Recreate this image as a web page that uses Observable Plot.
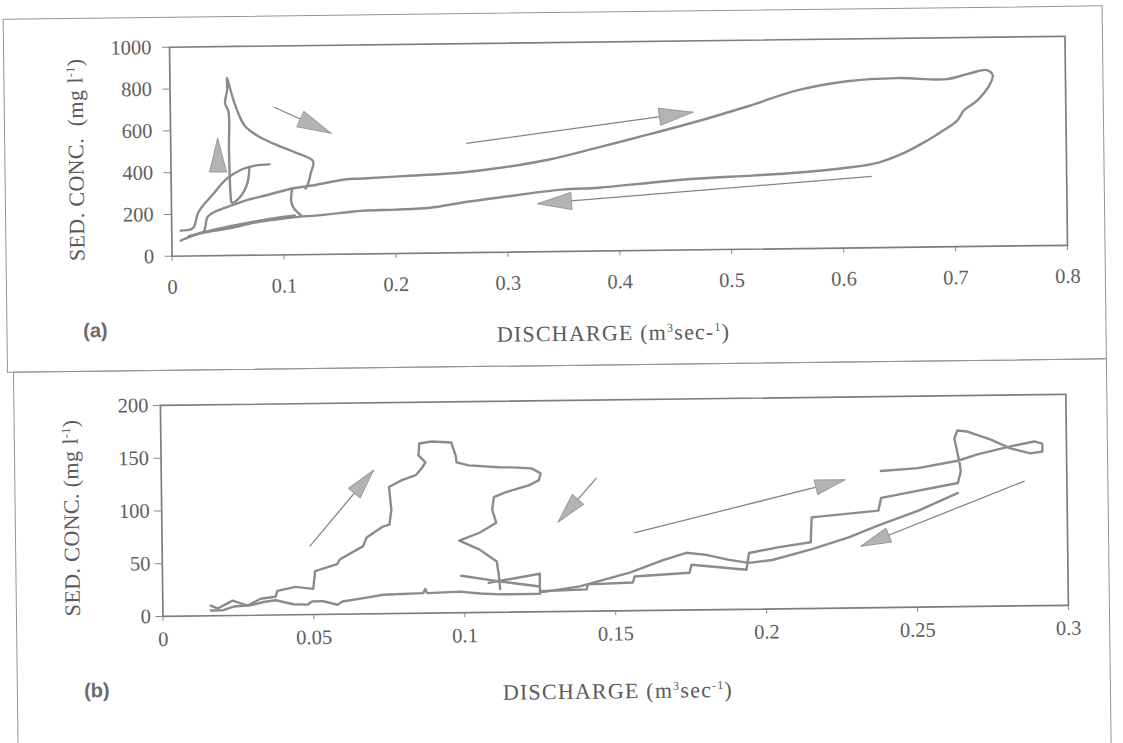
<!DOCTYPE html>
<html><head><meta charset="utf-8">
<script src="https://cdn.jsdelivr.net/npm/d3@7"></script>
<script src="https://cdn.jsdelivr.net/npm/@observablehq/plot@0.6"></script>
<style>
html,body{margin:0;padding:0;background:#fff;width:1123px;height:743px;overflow:hidden}
#fig{position:absolute;left:0;top:0;width:1123px;height:743px;transform:rotate(-0.7deg);transform-origin:561px 371px}
.box{position:absolute;border:1px solid #949494;box-sizing:border-box}
.panel{position:absolute;left:0}
.tag{position:absolute;font-family:"Liberation Sans",Arial,sans-serif;font-weight:bold;font-size:20px;color:#6a6a6a;transform:translate(-50%,-50%)}
.xt{position:absolute;font-family:"Liberation Serif",serif;font-size:22px;letter-spacing:1.2px;color:#5a5a5a;white-space:nowrap;transform:translate(-50%,-50%)}
.yt{position:absolute;font-family:"Liberation Serif",serif;font-size:22px;letter-spacing:0.4px;color:#5a5a5a;white-space:nowrap;transform:translate(-50%,-50%) rotate(-90deg)}
sup{font-size:12px;vertical-align:8px;line-height:0}
</style>
</head><body>
<div id="fig">
  <div class="box" style="left:7px;top:12px;width:1100px;height:354px"></div>
  <div class="box" style="left:13px;top:365px;width:1094px;height:420px"></div>
  <div id="pa" class="panel" style="top:0px"></div>
  <div id="pb" class="panel" style="top:370px"></div>
  <div class="yt" style="left:79px;top:154px">SED. CONC.&nbsp; (mg l<sup>-1</sup>)</div>
  <div class="xt" style="left:614px;top:334px">DISCHARGE (m<sup>3</sup>sec-<sup>1</sup>)</div>
  <div class="tag" style="left:96px;top:325px">(a)</div>
  <div class="yt" style="left:70px;top:512px">SED. CONC. (mg l<sup>-1</sup>)</div>
  <div class="xt" style="left:614px;top:692px">DISCHARGE (m<sup>3</sup>sec<sup>-1</sup>)</div>
  <div class="tag" style="left:93px;top:685px">(b)</div>
</div>
<script>
// ---------- Panel (a) data ----------
const xTicksA = [0, 0.1, 0.2, 0.3, 0.4, 0.5, 0.6, 0.7, 0.8];
const xTickLabelsA = ["0", "0.1", "0.2", "0.3", "0.4", "0.5", "0.6", "0.7", "0.8"];
const yTicksA = [0, 200, 400, 600, 800, 1000];

// early rising limb
const a1X = [0.008, 0.017, 0.020, 0.024, 0.037, 0.050, 0.063, 0.075, 0.088];
const a1Y = [122, 127, 140, 209, 293, 369, 411, 429, 434];
// small loop, spike and descent
const a2X = [0.070, 0.068, 0.061, 0.054, 0.053, 0.052, 0.052, 0.049, 0.051, 0.051, 0.054, 0.058, 0.066, 0.078, 0.093, 0.111, 0.127, 0.125, 0.122, 0.120];
const a2Y = [420, 344, 277, 253, 287, 504, 687, 730, 792, 850, 792, 720, 623, 570, 530, 490, 446, 393, 335, 316];
// main hysteresis loop
const a3X = [0.029,0.030,0.032,0.037,0.048,0.066,0.084,0.108,0.126,0.155,0.171,0.216,0.260,0.296,0.338,0.382,0.427,0.471,0.516,0.561,0.605,0.650,0.694,0.715,0.730,0.735,0.733,0.721,0.709,0.703,0.692,0.676,0.656,0.632,0.605,0.561,0.519,0.471,0.430,0.382,0.349,0.293,0.260,0.231,0.201,0.171,0.155,0.128,0.115,0.099,0.084,0.069,0.054,0.039,0.024,0.012,0.008];
const a3Y = [120,137,185,206,229,262,285,317,330,357,361,372,384,405,441,496,555,615,684,758,798,810,802,829,843,818,780,699,652,604,562,510,454,407,385,364,352,341,325,303,296,262,240,217,210,207,199,186,182,173,164,151,133,120,106,83,74];
// step between branches
const a4X = [0.108, 0.107, 0.109, 0.116];
const a4Y = [317, 259, 225, 186];
// doubled lower band
const a5X = [0.015, 0.030, 0.050, 0.065, 0.080, 0.095, 0.110];
const a5Y = [95, 116, 138, 153, 166, 178, 188];

// arrows (a)
const arrA_x1 = [0.042, 0.093, 0.264, 0.626];
const arrA_y1 = [409, 707, 523, 341];
const arrA_x2 = [0.042, 0.1435, 0.467, 0.327];
const arrA_y2 = [563, 579, 659, 230];
const arrA_shaft = [false, true, true, true];

// ---------- Panel (b) data ----------
const xTicksB = [0, 0.05, 0.1, 0.15, 0.2, 0.25, 0.3];
const xTickLabelsB = ["0", "0.05", "0.1", "0.15", "0.2", "0.25", "0.3"];
const yTicksB = [0, 50, 100, 150, 200];

const bRX = [0.0159,0.0182,0.0231,0.0281,0.0324,0.0374,0.0380,0.0440,0.0499,0.0506,0.0579,0.0589,0.0665,0.0678,0.0731,0.0754,0.0761,0.0754,0.0797,0.0843,0.0863,0.0876,0.0853,0.0856,0.0896,0.0962,0.0976,0.0979,0.1019,0.1118,0.1161,0.1227,0.1257,0.1250,0.1217,0.1141,0.1101,0.1095,0.1108,0.1052,0.0985,0.1052,0.1108,0.1114,0.1118];
const bRY = [9.7,6.8,14.1,9.2,15.6,17.3,22.9,26.4,24.3,41.2,47.5,52.1,64.0,72.4,82.5,84.3,98.4,120,126.4,130.9,137.4,143.0,149.6,160.9,162.6,161.4,149.2,142.6,139.6,137.4,137.2,136.0,131.2,124.6,120.0,113.8,109.2,97.1,84.8,75.6,68.4,59.6,48.2,36.0,21.9];
const bDX = [0.0159,0.0198,0.0235,0.0291,0.0334,0.0374,0.0433,0.0480,0.0496,0.0532,0.0579,0.0595,0.0665,0.0731,0.0863,0.0870,0.0876,0.0985,0.1052,0.1118,0.1250];
const bDY = [5,5,8.5,9.5,12.5,14,10,9.5,12.5,12.5,9,12,15,18,19,23,19,20,18,17,17];
const bC1X = [0.099, 0.112, 0.125];
const bC1Y = [35, 29, 24];
const bC2X = [0.108, 0.125, 0.125];
const bC2Y = [28, 36, 18];
const bB1X = [0.125,0.1273,0.1382,0.1548,0.1657,0.1736,0.1802,0.1878,0.1944,0.2021,0.2153,0.2275,0.2374,0.2507,0.2639];
const bB1Y = [18.5,19.3,23.6,36.1,47.3,54.2,52.0,47.0,43.9,46.4,56.2,67.0,77.9,91.4,107.8];
const bB2X = [0.125,0.1405,0.1409,0.1558,0.1564,0.1746,0.1753,0.1935,0.1944,0.2044,0.2149,0.2153,0.2374,0.2384,0.2639,0.2649,0.2646,0.2629,0.2639,0.2672,0.2748,0.2814,0.2880,0.2920,0.2920,0.2893,0.2814,0.2705,0.2639,0.2507,0.2384];
const bB2Y = [19.4,20.7,25.4,26.7,32.3,35.3,42.8,37.4,53.3,58.5,62.8,86.3,91.9,104.0,117.2,128.5,135.0,159.5,167.0,165.9,158.1,149.4,144.4,146.1,153.6,155.7,151.3,144.1,138.3,131.8,129.5];

const arrB_x1 = [0.0489, 0.1442, 0.1564, 0.2860];
const arrB_y1 = [64.7, 126.2, 73.6, 118.3];
const arrB_x2 = [0.0704, 0.1313, 0.2265, 0.2315];
const arrB_y2 = [136.2, 84.9, 121.5, 58.4];
const arrB_shaft = [true, true, true, true];

// ---------- helpers ----------
function rows(segs) {
  const out = [];
  segs.forEach(([name, xs, ys]) => xs.forEach((x, i) => out.push({seg: name, x, y: ys[i]})));
  return out;
}
function arrows(x1, y1, x2, y2, shaft) {
  return x1.map((_, i) => ({x1: x1[i], y1: y1[i], x2: x2[i], y2: y2[i], shaft: shaft[i]}));
}
const headShape = {
  draw(context, l, r) {
    context.moveTo(0, -l);
    context.lineTo(r, 0);
    context.lineTo(-r, 0);
    context.closePath();
  }
};
function panel(cfg) {
  const {W, H, ml, mr, mt, mb, xdom, ydom, xticks, xlabels, yticks, lines, arr, curve, headLen, headR, xPad, yPad} = cfg;
  const kx = (W - ml - mr) / (xdom[1] - xdom[0]);
  const ky = (H - mt - mb) / (ydom[1] - ydom[0]);
  const heads = arr.map(a => {
    const sdx = (a.x2 - a.x1) * kx, sdy = -(a.y2 - a.y1) * ky;
    return {x: a.x2, y: a.y2, rot: Math.atan2(sdx, -sdy) * 180 / Math.PI};
  });
  return Plot.plot({
    width: W, height: H, marginLeft: ml, marginRight: mr, marginTop: mt, marginBottom: mb,
    x: {domain: xdom}, y: {domain: ydom},
    style: {background: "transparent", fontFamily: "'Liberation Serif', serif", fontSize: "20.5px", color: "#5e5e5e"},
    marks: [
      Plot.axisX({ticks: xticks, tickFormat: (d, i) => xlabels[i], tickSize: 5, tickPadding: xPad, label: null, stroke: "#888", fontSize: 20.5}),
      Plot.axisY({ticks: yticks, tickFormat: d => String(d), tickSize: 7, tickPadding: yPad, label: null, stroke: "#888", fontSize: 20.5}),
      Plot.line(lines, {x: "x", y: "y", z: "seg", stroke: "#8b8b8b", strokeWidth: 2.4, curve, strokeLinejoin: "round"}),
      Plot.link(arr.filter(a => a.shaft), {x1: "x1", y1: "y1", x2: "x2", y2: "y2", stroke: "#858585", strokeWidth: 1.3}),
      Plot.vector(heads, {x: "x", y: "y", rotate: "rot", length: headLen, r: headR, anchor: "end", shape: headShape, fill: "#b3b3b3", stroke: "#9a9a9a", strokeWidth: 1}),
      Plot.frame({stroke: "#7d7d7d", strokeWidth: 1.7})
    ]
  });
}

const linesA = rows([["a1", a1X, a1Y], ["a2", a2X, a2Y], ["a3", a3X, a3Y], ["a4", a4X, a4Y], ["a5", a5X, a5Y]]);
const linesB = rows([["r", bRX, bRY], ["d", bDX, bDY], ["c1", bC1X, bC1Y], ["c2", bC2X, bC2Y], ["b1", bB1X, bB1Y], ["b2", bB2X, bB2Y]]);

document.getElementById("pa").append(panel({
  W: 1123, H: 300, ml: 173, mr: 54.5, mt: 42, mb: 49,
  xdom: [0, 0.8], ydom: [0, 1000], xticks: xTicksA, xlabels: xTickLabelsA, yticks: yTicksA,
  lines: linesA, arr: arrows(arrA_x1, arrA_y1, arrA_x2, arrA_y2, arrA_shaft),
  curve: "catmull-rom", headLen: 34, headR: 8.5, xPad: 18, yPad: 11
}));
document.getElementById("pb").append(panel({
  W: 1123, H: 300, ml: 159.5, mr: 58, mt: 30, mb: 59,
  xdom: [0, 0.3], ydom: [0, 200], xticks: xTicksB, xlabels: xTickLabelsB, yticks: yTicksB,
  lines: linesB, arr: arrows(arrB_x1, arrB_y1, arrB_x2, arrB_y2, arrB_shaft),
  curve: "linear", headLen: 30, headR: 7.5, xPad: 10, yPad: 5
}));
</script>
</body></html>
